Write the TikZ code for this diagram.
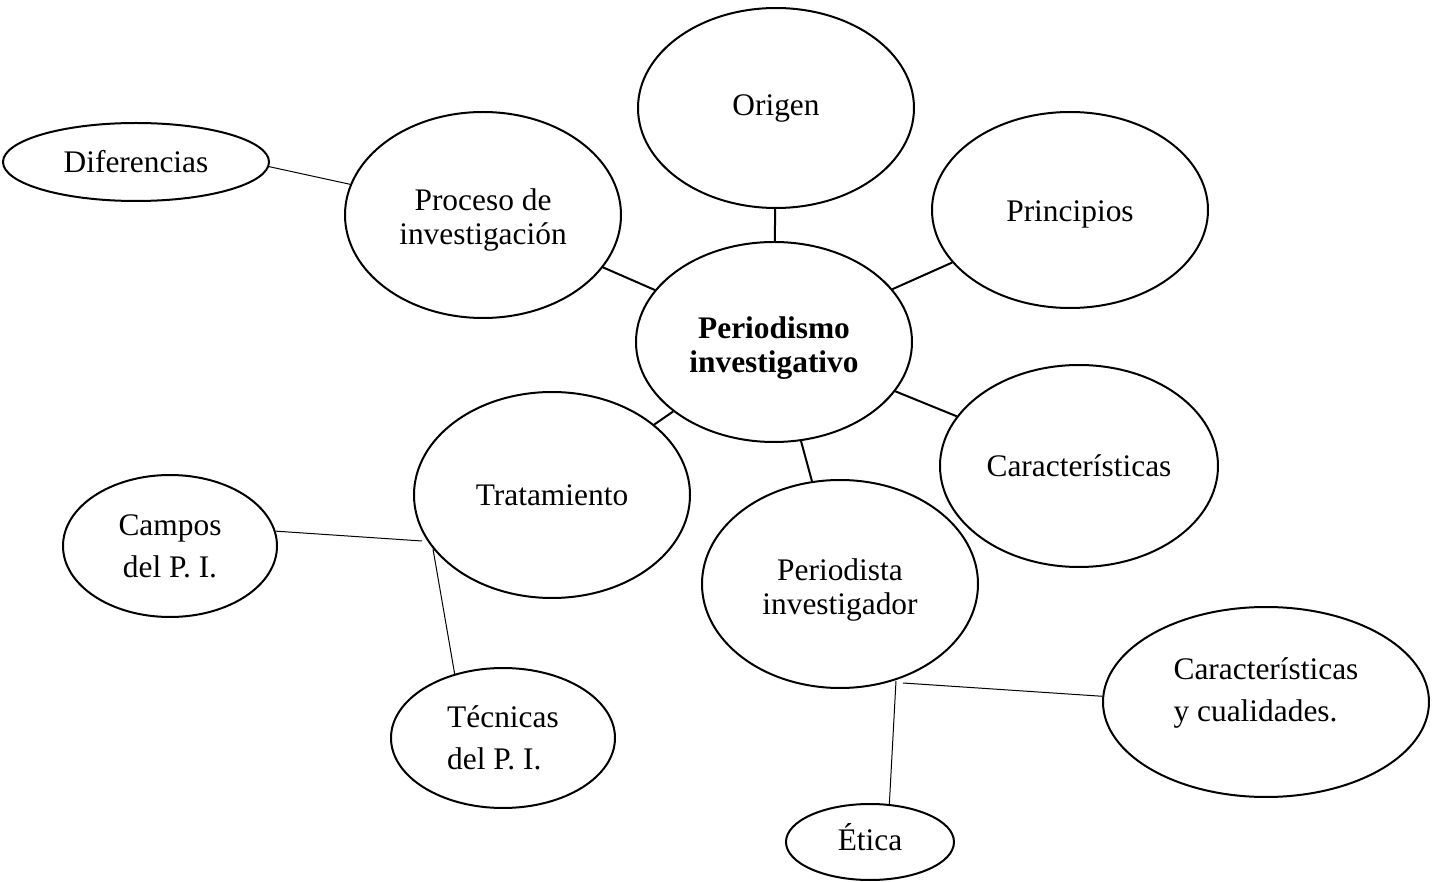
\documentclass[tikz,border=0pt]{standalone}
\usepackage{fontspec}
\setmainfont{Liberation Serif}
\usetikzlibrary{shapes.geometric}
\begin{document}
\begin{tikzpicture}[x=0.5pt,y=-0.5pt,
  bub/.style={draw, ellipse, line width=1pt, inner sep=0pt, align=center,
    font=\fontsize{15.7}{17}\selectfont},
  sz/.style 2 args={minimum width=#1pt, minimum height=#2pt},
  wide/.style={font=\fontsize{15.7}{21}\selectfont},
  thicklink/.style={line width=1pt},
  thinlink/.style={line width=0.5pt}]
\useasboundingbox (0,0) rectangle (1432,882);
\node[bub, sz={138}{100}] (orig) at (776,108) {Origen};
\node[bub, sz={138}{98}] (prin) at (1070,210) {\rule{0pt}{14.8pt}Principios};
\node[bub, sz={138}{103}] (proc) at (483,215) {\rule{0pt}{16pt}Proceso de\\investigación};
\node[bub, sz={133}{39}] (dif) at (136,162) {Diferencias};
\node[bub, sz={138}{100}, font=\fontsize{15.7}{17}\selectfont\bfseries] (per) at (774,342) {\rule{0pt}{17pt}Periodismo\\investigativo};
\node[bub, sz={139}{101}] (car) at (1079,466) {Características};
\node[bub, sz={138}{103}] (trat) at (552,495) {Tratamiento};
\node[bub, sz={138}{104}] (pi) at (840,584) {\rule{0pt}{17pt}Periodista\\investigador};
\node[bub, wide, sz={107}{71}] (cam) at (170,546) {Campos\\del P. I.};
\node[bub, wide, sz={112}{70}, align=left] (tec) at (503,738) {Técnicas\\del P. I.};
\node[bub, wide, sz={163}{95}, align=left] (cyc) at (1266,702) {Características\\y cualidades.\rule[-12pt]{0pt}{1pt}};
\node[bub, sz={84}{38}] (eti) at (870,842) {Ética\rule[-4.5pt]{0pt}{1pt}};
\coordinate (j1) at (422,541);
\coordinate (j2) at (433,549);
\coordinate (j3) at (896,681);
\coordinate (j4) at (903,683);
\draw[thicklink] (orig) -- (per);
\draw[thicklink] (prin) -- (per);
\draw[thicklink] (proc) -- (per);
\draw[thicklink] (per) -- (car);
\draw[thicklink] (per) -- (trat);
\draw[thicklink] (per) -- (pi);
\draw[thinlink] (dif.-2) -- (proc.167);
\draw[thinlink] (cam.8) -- (j1);
\draw[thinlink] (j2) -- (tec.127);
\draw[thinlink] (j3) -- (eti.63);
\draw[thinlink] (j4) -- (cyc.178);
\end{tikzpicture}
\end{document}
